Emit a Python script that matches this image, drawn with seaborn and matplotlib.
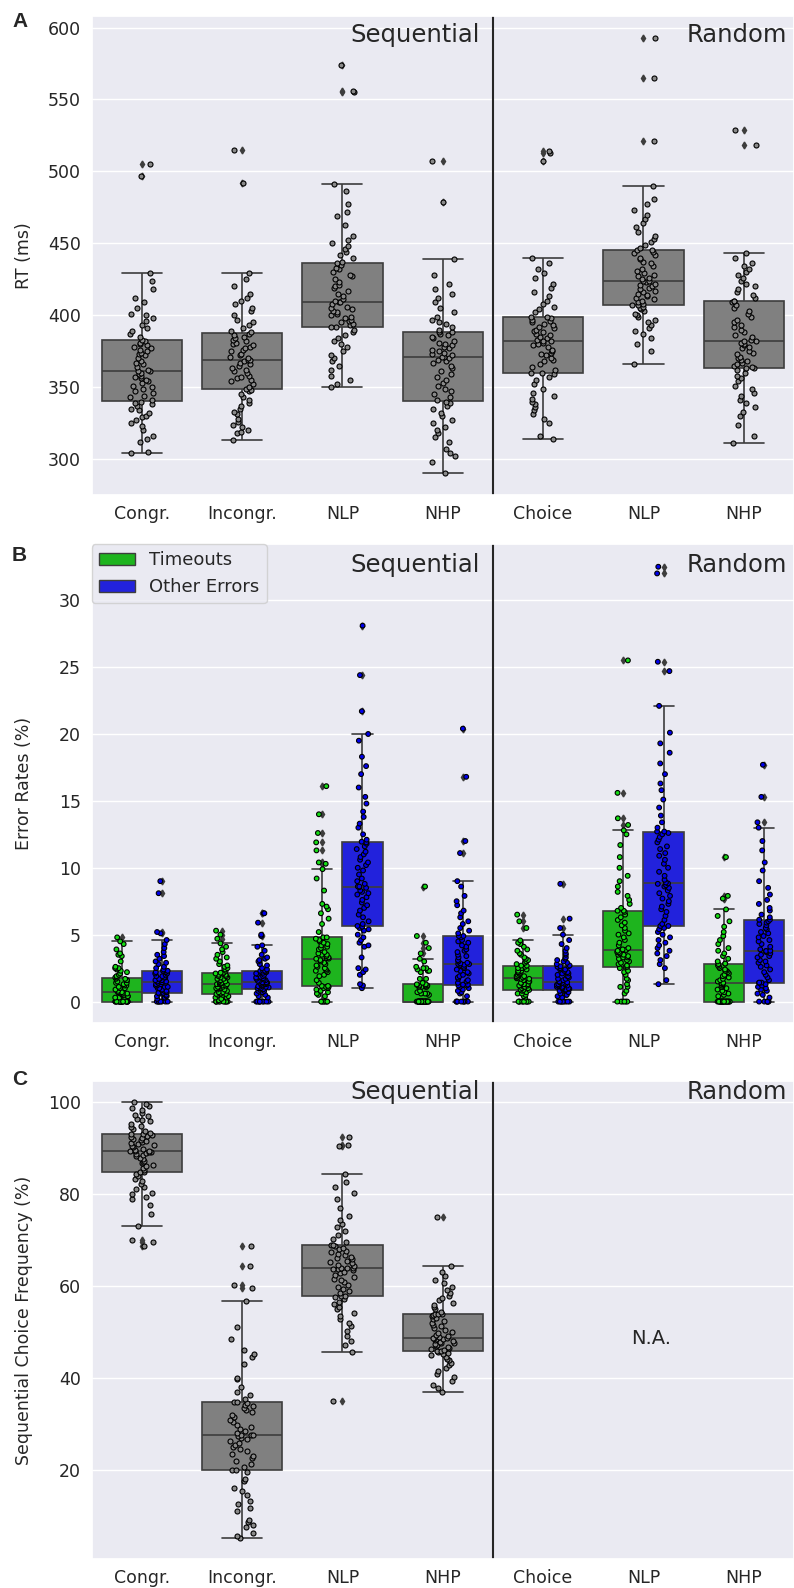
import numpy as np
import pandas as pd
import matplotlib.pyplot as plt
from matplotlib.patches import Patch
import seaborn as sns

sns.set_theme(style='darkgrid')
plt.rcParams['font.family'] = ['DejaVu Sans']
np.random.seed(7)

tick_labels = ['Congr.', 'Incongr.', 'NLP', 'NHP', 'Choice', 'NLP', 'NHP']
cond_keys = ['congr', 'incongr', 'nlp_seq', 'nhp_seq', 'choice', 'nlp_rand', 'nhp_rand']
error_kinds = ['Timeouts', 'Other Errors']

# ---- panel A: reaction times (ms), one value per participant
rt_congr = [304, 305, 312, 314, 316, 320, 323, 325, 327, 329, 330, 332, 334, 335, 337, 338, 339,
            340, 341,
            343, 344, 346, 347, 349, 350, 351, 353, 354, 355, 356, 357, 358, 359, 360,
            361, 361, 362,
            364, 366, 367, 368, 370, 372, 373, 374, 375, 376, 377, 378, 379, 380, 381,
            382, 383,
            385, 387, 389, 391, 393, 396, 398, 400, 401, 405, 409, 412, 418, 424, 429, 497, 505]
rt_incongr = [313, 318, 319, 320, 322, 324, 326, 328, 331, 333, 335, 337, 339, 341, 343, 345, 347,
              348, 349,
              350, 352, 354, 355, 356, 357, 358, 360, 361, 362, 363, 365, 366, 367, 368,
              369, 369, 370,
              371, 372, 373, 375, 376, 377, 378, 379, 380, 381, 382, 383, 384, 385, 386,
              387, 388,
              389, 391, 393, 395, 397, 400, 403, 405, 408, 410, 412, 415, 420, 425, 429, 492, 515]
rt_nlp_seq = [350, 352, 355, 358, 362, 365, 368, 370, 372, 375, 378, 380, 382, 384, 386, 388, 390,
              392, 392,
              393, 394, 395, 396, 397, 398, 399, 400, 401, 402, 403, 404, 405, 406, 408,
              409, 409, 410,
              411, 413, 415, 417, 419, 420, 421, 423, 425, 427, 428, 430, 432, 433, 435,
              436, 437,
              440, 442, 444, 446, 448, 450, 452, 455, 463, 469, 472, 477, 486, 491, 555, 556, 574]
rt_nhp_seq = [290, 298, 302, 304, 307, 312, 315, 318, 320, 322, 325, 327, 330, 332, 335, 337, 339,
              340, 341,
              343, 345, 347, 349, 351, 353, 355, 357, 359, 361, 363, 365, 367, 368, 369,
              370, 371, 371,
              372, 373, 374, 375, 376, 377, 378, 379, 380, 381, 382, 384, 385, 386, 387,
              388, 388,
              390, 392, 394, 395, 397, 399, 402, 405, 409, 412, 415, 418, 422, 428, 439, 479, 507]
rt_choice = [314, 316, 325, 328, 331, 334, 336, 338, 340, 342, 344, 346, 349, 352, 355, 357, 359,
             360, 360,
             362, 364, 366, 368, 369, 370, 372, 373, 374, 375, 376, 378, 379, 380, 381,
             382, 382, 383,
             384, 385, 386, 387, 388, 389, 390, 391, 392, 393, 394, 395, 396, 397, 398,
             399, 399,
             402, 404, 406, 408, 410, 413, 416, 419, 422, 426, 429, 432, 436, 440, 507, 513, 514]
rt_nlp_rand = [366, 375, 380, 384, 387, 389, 391, 393, 395, 397, 399, 400, 401, 403, 404, 405, 406,
               407, 407,
               408, 409, 410, 411, 412, 413, 414, 415, 416, 417, 418, 419, 420, 421, 422,
               423, 424, 424,
               425, 426, 427, 428, 429, 431, 432, 434, 436, 437, 439, 440, 442, 443, 444,
               445, 445,
               447, 449, 451, 453, 455, 458, 461, 464, 467, 470, 473, 477, 481, 490, 521, 565, 593]
rt_nhp_rand = [311, 316, 324, 330, 333, 336, 339, 341, 344, 346, 349, 351, 354, 356, 358, 360, 362,
               363, 363,
               364, 365, 366, 367, 368, 369, 370, 371, 373, 374, 375, 377, 378, 379, 380,
               381, 382, 382,
               383, 385, 386, 388, 390, 392, 393, 395, 397, 399, 401, 403, 405, 407, 409,
               410, 410,
               412, 414, 416, 418, 420, 422, 424, 426, 428, 430, 432, 434, 436, 440, 443, 518, 529]

# ---- panel B: error rates (%), timeouts (to) and other errors (oe)
to_congr = [0] * 19 + [0, 0, 0, 0, 0, 0.3, 0.3, 0.4, 0.4, 0.5, 0.5, 0.5, 0.6, 0.6, 0.6,
                       0.7, 0.7, 0.7,
                       0.8, 0.9, 1.0, 1.0, 1.1, 1.2, 1.2, 1.3, 1.4, 1.4, 1.5, 1.6, 1.6, 1.7, 1.7,
                       1.8, 1.8,
                       1.9, 2.0, 2.1, 2.2, 2.3, 2.4, 2.5, 2.5, 2.6, 3.0, 3.4, 3.5, 3.6, 3.9, 4.3, 4.5, 4.8]
oe_congr = [0, 0, 0, 0, 0, 0, 0, 0, 0.2, 0.3, 0.3, 0.4, 0.4, 0.5, 0.5, 0.6, 0.6,
            0.65, 0.65,
            0.7, 0.8, 0.8, 0.9, 0.9, 1.0, 1.0, 1.1, 1.1, 1.2, 1.2, 1.3, 1.3, 1.4, 1.4,
            1.45, 1.45, 1.5,
            1.5, 1.6, 1.6, 1.7, 1.7, 1.8, 1.8, 1.9, 1.9, 2.0, 2.1, 2.1, 2.2, 2.2, 2.3,
            2.3, 2.3,
            2.4, 2.5, 2.6, 2.8, 2.9, 3.0, 3.2, 3.4, 3.5, 3.7, 4.0, 4.3, 4.6, 5.1, 5.2, 8.1, 9.0]
to_incongr = [0, 0, 0, 0, 0, 0, 0, 0, 0, 0, 0.1, 0.2, 0.3, 0.3, 0.4, 0.5, 0.5,
              0.57, 0.57,
              0.6, 0.7, 0.7, 0.8, 0.9, 0.9, 1.0, 1.0, 1.1, 1.1, 1.2, 1.2, 1.3, 1.3, 1.3,
              1.34, 1.34, 1.4,
              1.4, 1.5, 1.5, 1.6, 1.6, 1.7, 1.7, 1.8, 1.8, 1.9, 1.9, 2.0, 2.0, 2.1, 2.1,
              2.16, 2.16,
              2.3, 2.4, 2.5, 2.6, 2.7, 2.8, 3.0, 3.2, 3.3, 3.5, 3.7, 3.9, 4.1, 4.35, 4.7, 5.0, 5.3]
oe_incongr = [0, 0, 0, 0, 0, 0, 0, 0, 0, 0.3, 0.4, 0.5, 0.6, 0.7, 0.8, 0.8, 0.9,
              0.92, 0.92,
              1.0, 1.0, 1.05, 1.1, 1.1, 1.15, 1.2, 1.2, 1.25, 1.3, 1.3, 1.35, 1.4, 1.4, 1.4,
              1.44, 1.44, 1.5,
              1.55, 1.6, 1.65, 1.7, 1.75, 1.8, 1.85, 1.9, 2.0, 2.05, 2.1, 2.15, 2.2, 2.25, 2.3,
              2.31, 2.31,
              2.4, 2.5, 2.7, 2.8, 3.0, 3.1, 3.2, 3.3, 3.5, 3.8, 4.1, 4.2, 4.9, 5.0, 5.9, 6.6, 6.6]
to_nlp_seq = [0, 0, 0, 0, 0, 0, 0, 0.4, 0.5, 0.6, 0.7, 0.8, 0.9, 1.0, 1.0, 1.1, 1.1,
              1.17, 1.17,
              1.4, 1.6, 1.9, 2.0, 2.2, 2.3, 2.3, 2.4, 2.5, 2.6, 2.7, 2.8, 2.9, 3.0, 3.1,
              3.2, 3.21, 3.25,
              3.3, 3.4, 3.5, 3.5, 3.6, 3.7, 3.9, 4.0, 4.1, 4.2, 4.3, 4.4, 4.5, 4.6, 4.7,
              4.8, 4.8,
              5.2, 5.8, 6.2, 6.6, 6.9, 7.1, 7.3, 8.3, 9.2, 9.9, 10.3, 10.4, 11.3, 11.9, 12.6, 14.0, 16.1]
oe_nlp_seq = [1.0, 1.2, 1.3, 2.0, 2.2, 2.4, 2.5, 3.3, 4.1, 4.2, 4.4, 4.6, 4.8, 5.0, 5.3, 5.4, 5.5,
              5.6, 5.65,
              5.8, 6.0, 6.3, 6.5, 6.8, 7.0, 7.2, 7.4, 7.6, 7.8, 8.0, 8.1, 8.2, 8.3, 8.5,
              8.55, 8.6, 8.6,
              8.8, 9.0, 9.2, 9.5, 9.8, 10.0, 10.2, 10.4, 10.6, 10.8, 11.0, 11.2, 11.4, 11.6, 11.8,
              11.9, 11.95,
              12.1, 12.5, 13.0, 13.3, 13.8, 14.2, 14.8, 15.3, 16.0, 17.0, 17.6, 18.3, 19.5, 20.0,
              21.7, 24.4, 28.1]
to_nhp_seq = [0] * 37 + [0.5,
                         0.6, 0.6, 0.6, 0.7, 0.8, 1.1, 1.1, 1.1, 1.1, 1.2, 1.2, 1.2, 1.2, 1.2, 1.25,
                         1.29, 1.29,
                         1.4, 1.7, 1.7, 2.2, 2.3, 2.3, 2.4, 2.5, 2.5, 2.6, 3.0, 3.2,
                         3.6, 4.0, 4.4, 4.9, 8.6]
oe_nhp_seq = [0, 0, 0, 0, 0, 0, 0, 0, 0.4, 0.6, 0.7, 0.8, 0.9, 1.0, 1.1, 1.2, 1.2,
              1.27, 1.27,
              1.4, 1.5, 1.6, 1.7, 1.8, 1.9, 2.0, 2.1, 2.2, 2.3, 2.4, 2.5, 2.6, 2.7, 2.75,
              2.8, 2.81, 2.85,
              2.9, 3.0, 3.1, 3.3, 3.4, 3.5, 3.7, 3.8, 3.9, 4.1, 4.2, 4.4, 4.5, 4.6, 4.8,
              4.9, 4.9,
              5.1, 5.3, 5.5, 5.8, 6.0, 6.3, 6.6, 6.8, 7.2, 7.5, 7.9, 8.6, 9.0, 11.1, 12.0, 16.8, 20.4]
to_choice = [0, 0, 0, 0, 0, 0, 0, 0, 0, 0, 0.3, 0.4, 0.5, 0.6, 0.6, 0.7, 0.8,
             0.87, 0.87,
             0.9, 1.0, 1.0, 1.1, 1.1, 1.2, 1.2, 1.3, 1.3, 1.4, 1.4, 1.5, 1.5, 1.6, 1.7,
             1.7, 1.74, 1.8,
             1.8, 1.9, 1.9, 2.0, 2.0, 2.1, 2.1, 2.2, 2.2, 2.3, 2.3, 2.4, 2.5, 2.5, 2.6,
             2.69, 2.69,
             2.8, 2.9, 3.0, 3.1, 3.2, 3.3, 3.5, 3.6, 3.8, 3.9, 4.1, 4.3, 4.4, 4.57, 5.5, 6.0, 6.5]
oe_choice = [0, 0, 0, 0, 0, 0, 0, 0, 0, 0.3, 0.4, 0.5, 0.5, 0.6, 0.7, 0.8, 0.8,
             0.87, 0.87,
             0.9, 0.95, 1.0, 1.0, 1.05, 1.1, 1.1, 1.15, 1.2, 1.2, 1.25, 1.3, 1.3, 1.35, 1.4,
             1.44, 1.44, 1.5,
             1.6, 1.7, 1.7, 1.8, 1.9, 1.9, 2.0, 2.1, 2.1, 2.2, 2.3, 2.4, 2.4, 2.5, 2.6,
             2.64, 2.64,
             2.7, 2.8, 2.9, 3.0, 3.1, 3.2, 3.3, 3.5, 3.6, 3.8, 4.0, 4.3, 4.6, 5.0, 5.5, 6.2, 8.8]
to_nlp_rand = [0, 0, 0, 0, 0, 0, 0.6, 0.8, 1.1, 1.1, 1.3, 1.6, 1.7, 2.0, 2.2, 2.3, 2.5,
               2.59, 2.59,
               2.7, 2.8, 2.9, 3.0, 3.1, 3.2, 3.3, 3.3, 3.4, 3.5, 3.5, 3.6, 3.7, 3.7, 3.8,
               3.86, 3.86, 3.9,
               4.0, 4.2, 4.4, 4.6, 4.8, 5.0, 5.1, 5.3, 5.5, 5.7, 5.9, 6.1, 6.3, 6.5, 6.7,
               6.79, 6.79,
               7.0, 7.3, 7.6, 7.9, 8.2, 8.6, 9.0, 9.4, 10.0, 10.8, 11.7, 12.5, 12.8,
               13.2, 13.7, 15.6, 25.5]
oe_nlp_rand = [1.3, 1.6, 2.5, 2.8, 3.1, 3.4, 3.6, 3.8, 4.0, 4.2, 4.4, 4.6, 4.8, 5.0, 5.2, 5.4, 5.5,
               5.65, 5.65,
               5.8, 6.1, 6.4, 6.7, 6.9, 7.1, 7.3, 7.5, 7.7, 7.9, 8.1, 8.3, 8.5, 8.6, 8.7,
               8.8, 8.83, 8.9,
               9.1, 9.4, 9.7, 10.0, 10.3, 10.6, 10.9, 11.1, 11.4, 11.6, 11.9, 12.1, 12.3, 12.5, 12.6,
               12.71, 12.71,
               13.0, 13.4, 13.9, 14.5, 15.1, 15.8, 16.3, 17.0, 17.8, 18.6, 19.3, 20.1, 22.1,
               24.7, 25.4, 32.0, 32.5]
to_nhp_rand = [0] * 23 + [0.4, 0.5, 0.6, 0.7, 0.8, 0.9, 1.0, 1.1, 1.1, 1.2, 1.3,
                          1.39, 1.39, 1.4,
                          1.5, 1.6, 1.7, 1.8, 1.9, 2.0, 2.1, 2.2, 2.3, 2.3, 2.4, 2.5, 2.6, 2.7, 2.8,
                          2.84, 2.84,
                          3.0, 3.2, 3.4, 3.6, 3.8, 4.0, 4.3, 4.6, 4.9, 5.2, 5.6, 6.0, 6.4, 6.89,
                          7.7, 7.9, 10.8]
oe_nhp_rand = [0, 0, 0, 0, 0, 0, 0, 0.3, 0.5, 0.6, 0.8, 0.9, 1.0, 1.1, 1.2, 1.3, 1.4,
               1.42, 1.42,
               1.6, 1.8, 2.0, 2.2, 2.4, 2.6, 2.7, 2.9, 3.0, 3.1, 3.3, 3.4, 3.5, 3.6, 3.7,
               3.78, 3.78, 3.8,
               3.9, 4.1, 4.3, 4.5, 4.6, 4.8, 4.9, 5.1, 5.2, 5.4, 5.5, 5.7, 5.8, 5.9, 6.0,
               6.12, 6.12,
               6.3, 6.5, 6.8, 7.0, 7.3, 7.6, 8.0, 8.5, 9.0, 9.8, 10.4, 11.3, 12.0, 13.0,
               13.4, 15.3, 17.7]

# ---- panel C: sequential choice frequency (%), sequential blocks only
sc_congr = [68.7, 69.5, 70.0, 73.1, 75.6, 77.7, 78.9, 79.4, 80.0, 80.3, 81.0, 81.6, 82.1, 82.8,
            83.3, 83.9, 84.4,
            84.85, 84.85,
            85.3, 85.7, 86.0, 86.4, 86.7, 87.0, 87.3, 87.6, 87.9, 88.2, 88.4, 88.7, 88.9, 89.1, 89.2,
            89.3, 89.35, 89.4,
            89.6, 89.9, 90.2, 90.4, 90.7, 90.9, 91.2, 91.4, 91.6, 91.8, 92.0, 92.3, 92.5, 92.7, 92.9,
            93.0, 93.0,
            93.3, 93.7, 94.1, 94.5, 94.9, 95.3, 95.8, 96.1, 96.4, 96.9, 97.3, 97.7, 98.2, 98.7,
            99.2, 99.6, 100.0]
sc_incongr = [5.2, 5.6, 6.3, 7.5, 8.1, 8.6, 9.0, 11.0, 11.8, 12.5, 13.3, 14.5, 15.4, 16.0, 17.5,
              18.0, 19.5,
              20.0, 20.0,
              20.6, 21.3, 22.0, 22.5, 23.0, 23.5, 24.0, 24.5, 25.0, 25.4, 25.9, 26.3, 26.7, 27.0, 27.3,
              27.5, 27.5, 27.6,
              28.0, 28.4, 28.9, 29.4, 29.8, 30.3, 30.9, 31.5, 32.0, 32.5, 33.0, 33.4, 33.8, 34.2, 34.6,
              34.8, 34.8,
              35.5, 36.2, 37.0, 38.0, 39.8, 40.0, 43.0, 44.5, 45.3, 46.0, 48.5, 51.0, 56.8,
              59.6, 60.3, 64.4, 68.8]
sc_nlp = [35.0, 45.7, 47.2, 48.0, 49.1, 50.3, 51.2, 52.0, 52.8, 53.5, 54.2, 54.9, 55.5, 56.0,
          56.6, 57.1, 57.5,
          57.9, 57.9,
          58.4, 58.9, 59.4, 59.8, 60.3, 60.8, 61.2, 61.6, 62.0, 62.4, 62.8, 63.1, 63.4, 63.6, 63.8,
          63.9, 63.9, 64.0,
          64.3, 64.6, 64.9, 65.2, 65.5, 65.8, 66.1, 66.4, 66.7, 67.0, 67.3, 67.7, 68.0, 68.3, 68.6,
          68.9, 68.9,
          69.5, 70.3, 71.2, 72.0, 72.8, 73.5, 74.3, 75.3, 77.0, 78.9, 80.2, 81.5, 82.6, 84.35,
          90.4, 90.6, 92.4]
sc_nhp = [36.9, 37.8, 38.5, 39.4, 40.2, 40.9, 41.6, 42.2, 42.8, 43.3, 43.8, 44.2, 44.6, 45.0,
          45.3, 45.5, 45.7,
          45.9, 45.9,
          46.1, 46.3, 46.5, 46.7, 46.9, 47.1, 47.3, 47.5, 47.7, 47.9, 48.1, 48.3, 48.4, 48.5, 48.6,
          48.7, 48.7, 48.8,
          49.1, 49.4, 49.7, 50.0, 50.4, 50.8, 51.2, 51.6, 52.0, 52.4, 52.8, 53.1, 53.4, 53.6, 53.8,
          54.0, 54.0,
          54.4, 54.9, 55.4, 55.9, 56.4, 56.9, 57.4, 57.9, 58.5, 59.1, 59.8, 60.6, 61.4, 62.2,
          63.0, 64.4, 75.1]

box_gray = '#808080'
point_gray = '#8a8a8a'
box_colors = {'Timeouts': '#1eb41e', 'Other Errors': '#2222dc'}
point_colors = {'Timeouts': '#14dc14', 'Other Errors': '#0000ee'}
line_col = '#3d3d3d'


def long_table(lists, keys, kind=None):
    rows = [(k, v) for k, vals in zip(keys, lists) for v in vals]
    df = pd.DataFrame(rows, columns=['cond', 'value'])
    if kind is not None:
        df['kind'] = kind
    return df


rt = long_table([rt_congr, rt_incongr, rt_nlp_seq, rt_nhp_seq, rt_choice, rt_nlp_rand, rt_nhp_rand],
                cond_keys)
err = pd.concat([
    long_table([to_congr, to_incongr, to_nlp_seq, to_nhp_seq, to_choice, to_nlp_rand, to_nhp_rand],
               cond_keys, 'Timeouts'),
    long_table([oe_congr, oe_incongr, oe_nlp_seq, oe_nhp_seq, oe_choice, oe_nlp_rand, oe_nhp_rand],
               cond_keys, 'Other Errors')])
sc = long_table([sc_congr, sc_incongr, sc_nlp, sc_nhp], cond_keys[:4])

flier_kw = dict(marker='d', markerfacecolor=line_col, markeredgecolor=line_col, markersize=3.5)


def draw(ax, df, hue=None):
    if hue is None:
        sns.boxplot(data=df, x='cond', y='value', order=cond_keys, color=box_gray, saturation=1,
                    width=0.8, linecolor=line_col, linewidth=1.2, flierprops=flier_kw, ax=ax)
        sns.stripplot(data=df, x='cond', y='value', order=cond_keys, color=point_gray, jitter=0.12,
                      size=3.6, linewidth=0.8, edgecolor='black', ax=ax)
    else:
        sns.boxplot(data=df, x='cond', y='value', hue=hue, order=cond_keys, hue_order=error_kinds,
                    palette=box_colors, saturation=1, width=0.8, linecolor=line_col, linewidth=1.2,
                    flierprops=flier_kw, legend=False, ax=ax)
        sns.stripplot(data=df, x='cond', y='value', hue=hue, order=cond_keys, hue_order=error_kinds,
                      palette=point_colors, dodge=True, jitter=0.13, size=3.4, linewidth=0.8,
                      edgecolor='black', legend=False, ax=ax)
    ax.set_xlim(-0.5, 6.5)
    ax.set_xticks(range(7))
    ax.set_xticklabels(tick_labels)
    ax.set_xlabel('')
    ax.axvline(3.5, color='#262626', lw=1.5)
    ax.tick_params(axis='both', labelsize=12.5, pad=1.5)


fig = plt.figure(figsize=(7.94, 15.88), dpi=100)
W, H = 794, 1588
axA = fig.add_axes([91.5 / W, 1 - 495 / H, 702.5 / W, 479 / H])
axB = fig.add_axes([91.5 / W, 1 - 1023 / H, 702.5 / W, 479 / H])
axC = fig.add_axes([91.5 / W, 1 - 1559 / H, 702.5 / W, 478 / H])

seq_x, rand_x, head_size = 3.37, 6.43, 17.5

# A
draw(axA, rt)
axA.set_ylim(275, 608)
axA.set_yticks(range(300, 601, 50))
axA.set_ylabel('RT (ms)', fontsize=12.5)
axA.text(seq_x, 595, 'Sequential', ha='right', va='center', fontsize=head_size)
axA.text(rand_x, 595, 'Random', ha='right', va='center', fontsize=head_size)

# B
draw(axB, err, hue='kind')
axB.set_ylim(-1.6, 34.2)
axB.set_yticks(range(0, 31, 5))
axB.set_ylabel('Error Rates (%)', fontsize=12.5)
axB.text(seq_x, 32.6, 'Sequential', ha='right', va='center', fontsize=head_size)
axB.text(rand_x, 32.6, 'Random', ha='right', va='center', fontsize=head_size)
handles = [Patch(facecolor=box_colors[k], edgecolor=line_col, label=k) for k in error_kinds]
axB.legend(handles=handles, loc='upper left', borderaxespad=0, fontsize=13, frameon=True)

# C
draw(axC, sc)
axC.set_ylim(0.6, 104.6)
axC.set_yticks(range(20, 101, 20))
axC.set_ylabel('Sequential Choice Frequency (%)', fontsize=12.5)
axC.text(seq_x, 102.3, 'Sequential', ha='right', va='center', fontsize=head_size)
axC.text(rand_x, 102.3, 'Random', ha='right', va='center', fontsize=head_size)
axC.text(5.08, 48.5, 'N.A.', ha='center', va='center', fontsize=14)

for ax in (axA, axB, axC):
    ax.yaxis.set_label_coords(-0.083, 0.5)

for letter, ytop in zip('ABC', (12, 546, 1070)):
    fig.text(12 / W, 1 - ytop / H, letter, ha='left', va='top', fontsize=15,
             fontweight='bold', family=['Liberation Sans', 'DejaVu Sans'])

fig.savefig('out.png', dpi=100)
